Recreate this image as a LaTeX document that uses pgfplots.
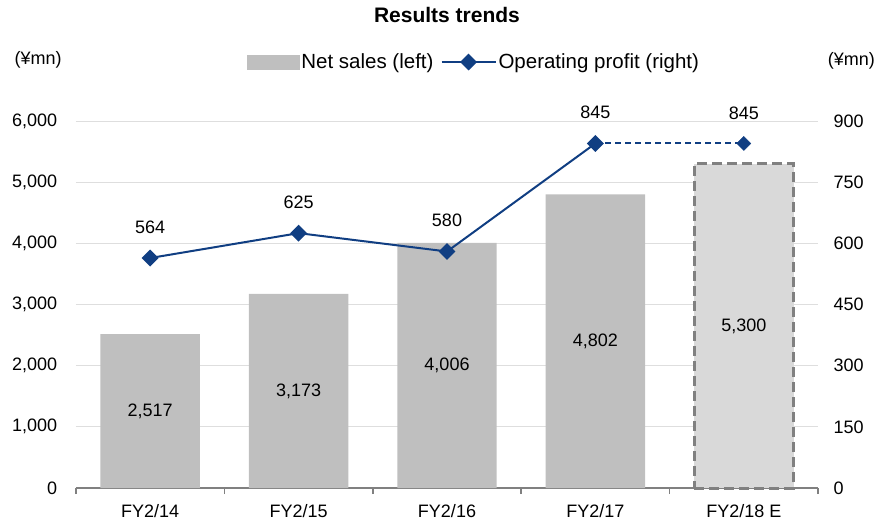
\documentclass[border=0pt]{standalone}
\usepackage{fontspec}
\setmainfont{Liberation Sans}
\usepackage{pgfplots}
\pgfplotsset{compat=1.18}
\usepackage{pgfplotstable}

\definecolor{bargray}{RGB}{191,191,191}
\definecolor{estgray}{RGB}{217,217,217}
\definecolor{edgegray}{RGB}{128,128,128}
\definecolor{gridgray}{RGB}{222,222,222}
\definecolor{opblue}{RGB}{16,62,130}

% net sales, left axis
\pgfplotstableread{
x sales
0 2517
1 3173
2 4006
3 4802
}\salesactual
\pgfplotstableread{
x sales
4 5300
}\salesest
% operating profit, right axis
\pgfplotstableread{
x profit
0 564
1 625
2 580
3 845
}\profitactual
\pgfplotstableread{
x profit
3 845
4 845
}\profitdash
\pgfplotstableread{
x profit
4 845
}\profitest

\pgfplotsset{
  base/.style={
    scale only axis, width=742pt, height=367pt,
    xmin=-0.5, xmax=4.5, ymin=0,
    tick label style={font=\fontsize{18}{18}\selectfont},
    /pgf/number format/1000 sep={,},
    /pgf/number format/assume math mode=true,
  },
  barlabel/.style={draw=none, mark=none, nodes near coords, point meta=explicit,
    every node near coord/.append style={anchor=center, font=\fontsize{18}{18}\selectfont}},
  linelabel/.style={nodes near coords,
    every node near coord/.append style={anchor=south, yshift=20pt, black, font=\fontsize{18}{18}\selectfont}},
  dmark/.style={mark=square*, mark size=5pt, mark options={solid, rotate=45}},
}

\begin{document}
\begin{tikzpicture}
\begin{axis}[base,
    ymax=6000, ytick={0,1000,...,6000},
    ymajorgrids, grid style={gridgray, line width=1pt},
    axis x line*=bottom, axis y line*=left,
    y axis line style={draw=none},
    x axis line style={edgegray, line width=2pt, -},
    xtick={0,...,4},
    xticklabels={FY2/14, FY2/15, FY2/16, FY2/17, FY2/18 E},
    major x tick style={draw=none},
    minor xtick={-0.5,0.5,...,4.5},
    minor x tick style={edgegray, line width=1.5pt},
    minor tick length=6pt, tick align=outside,
    ytick style={draw=none},
    xticklabel style={yshift=-9pt},
    yticklabel style={xshift=-11pt},
    clip=false,
  ]
\addplot[ybar, bar width=0.67, bar shift=0pt, fill=bargray, draw=none] table[x=x, y=sales] {\salesactual};
\addplot[ybar, bar width=0.67, bar shift=0pt, fill=estgray, draw=edgegray, line width=3pt, dash pattern=on 10pt off 5pt] table[x=x, y=sales] {\salesest};
\addplot[barlabel] table[x=x, y expr=\thisrow{sales}/2, meta=sales] {\salesactual};
\addplot[barlabel] table[x=x, y expr=\thisrow{sales}/2, meta=sales] {\salesest};
\node[font=\fontsize{18}{18}\selectfont] at (rel axis cs:-0.051,1.166) {(¥mn)};
\node[font=\fontsize{18}{18}\selectfont] at (rel axis cs:1.045,1.163) {(¥mn)};
\node[font=\bfseries\fontsize{21}{21}\selectfont] at (rel axis cs:0.5,1.289) {Results trends};
\end{axis}
\begin{axis}[base,
    ymax=900, ytick={0,150,...,900},
    axis y line*=right, axis x line=none,
    y axis line style={draw=none},
    ytick style={draw=none},
    yticklabel style={xshift=12pt},
    clip=false,
    legend style={at={(0.5,1)}, anchor=center, xshift=27pt, yshift=59pt, draw=none, fill=none,
      font=\fontsize{20.5}{20.5}\selectfont, legend columns=2,
      /tikz/every even column/.append style={column sep=5pt}},
  ]
\addlegendimage{legend image code/.code={\fill[bargray] (0pt,-7pt) rectangle (52pt,7pt);}}
\addlegendentry{Net sales (left)}
\addlegendimage{legend image code/.code={\draw[opblue, line width=2pt, mark=square*, mark size=5pt, mark options={solid, rotate=45}, mark indices={2}] plot coordinates {(0pt,0pt) (27pt,0pt) (54pt,0pt)};}}
\addlegendentry{Operating profit (right)}
\addplot[forget plot, opblue, line width=2pt, dash pattern=on 6pt off 4pt, mark=none] table[x=x, y=profit] {\profitdash};
\addplot[forget plot, opblue, line width=2pt, dmark, linelabel] table[x=x, y=profit] {\profitactual};
\addplot[forget plot, only marks, opblue, dmark, linelabel] table[x=x, y=profit] {\profitest};
\end{axis}
\pgfresetboundingbox
\path[use as bounding box] (-76pt,-35pt) rectangle (804pt,488pt);
\end{tikzpicture}
\end{document}
